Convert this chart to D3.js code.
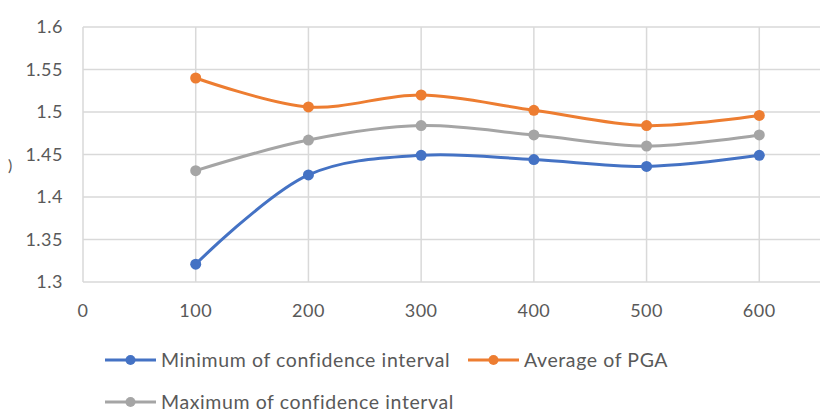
<!DOCTYPE html>
<html><head><meta charset="utf-8">
<script src="https://cdn.jsdelivr.net/npm/d3@7"></script>
<style>html,body{margin:0;padding:0;background:#fff;overflow:hidden}svg{display:block}</style>
</head><body>
<svg id="c" width="820" height="412"></svg>
<script>
const xValues = [100, 200, 300, 400, 500, 600];
const minCI = [1.321, 1.426, 1.449, 1.444, 1.436, 1.449];
const avgPGA = [1.540, 1.506, 1.520, 1.502, 1.484, 1.496];
const maxCI = [1.431, 1.467, 1.484, 1.473, 1.460, 1.473];
const seriesNames = ["Minimum of confidence interval", "Average of PGA", "Maximum of confidence interval"];
const seriesColors = ["#4472C4", "#ED7D31", "#A5A5A5"];
const xTicks = [0, 100, 200, 300, 400, 500, 600];
const yTicks = [1.3, 1.35, 1.4, 1.45, 1.5, 1.55, 1.6];

const svg = d3.select("#c");
const x = d3.scaleLinear().domain([0, 700]).range([83, 872]);
const y = d3.scaleLinear().domain([1.3, 1.6]).range([282, 27]);
const font = "Lato, 'Open Sans', sans-serif";
const textColor = "#595959";

// gridlines
svg.append("g").selectAll("line").data(yTicks).join("line")
  .attr("x1", 83).attr("x2", 820).attr("y1", d => y(d)).attr("y2", d => y(d))
  .attr("stroke", "#d9d9d9").attr("stroke-width", 1.5);
svg.append("g").selectAll("line").data(xTicks).join("line")
  .attr("x1", d => x(d)).attr("x2", d => x(d)).attr("y1", 27).attr("y2", 282)
  .attr("stroke", "#d9d9d9").attr("stroke-width", 1.5);

// y tick labels
svg.append("g").selectAll("text").data(yTicks).join("text")
  .attr("x", 63).attr("y", d => y(d)).attr("dy", "0.35em")
  .attr("text-anchor", "end").attr("font-family", font).attr("font-size", 18)
  .attr("letter-spacing", 0.5)
  .attr("fill", textColor).text(d => String(+d.toFixed(2)));
// x tick labels
svg.append("g").selectAll("text").data(xTicks).join("text")
  .attr("x", d => x(d)).attr("y", 311).attr("dy", "0.35em")
  .attr("text-anchor", "middle").attr("font-family", font).attr("font-size", 18)
  .attr("letter-spacing", 0.5)
  .attr("fill", textColor).text(d => d);

// clipped y-axis title fragment
svg.append("text").attr("x", 8).attr("y", 165).attr("dy", "0.35em")
  .attr("font-family", font).attr("font-size", 16).attr("fill", textColor).text(")");

const data = [minCI, avgPGA, maxCI];
const line = d3.line().x((d, i) => x(xValues[i])).y(d => y(d)).curve(d3.curveCatmullRom.alpha(0.5));
data.forEach((vals, si) => {
  const g = svg.append("g");
  g.append("path").datum(vals).attr("d", line).attr("fill", "none")
    .attr("stroke", seriesColors[si]).attr("stroke-width", 3).attr("stroke-linecap", "round");
  g.selectAll("circle").data(vals).join("circle")
    .attr("cx", (d, i) => x(xValues[i])).attr("cy", d => y(d)).attr("r", 5.5)
    .attr("fill", seriesColors[si]);
});

// legend
const legendPos = [[105, 360], [468, 360], [105, 402]];
seriesNames.forEach((name, i) => {
  const [lx, ly] = legendPos[i];
  const g = svg.append("g");
  g.append("line").attr("x1", lx).attr("x2", lx + 51).attr("y1", ly).attr("y2", ly)
    .attr("stroke", seriesColors[i]).attr("stroke-width", 3);
  g.append("circle").attr("cx", lx + 25.5).attr("cy", ly).attr("r", 5).attr("fill", seriesColors[i]);
  g.append("text").attr("x", lx + 56).attr("y", ly).attr("dy", "0.35em")
    .attr("font-family", font).attr("font-size", 19.5).attr("letter-spacing", 0.6)
    .attr("fill", textColor).text(name);
});
</script>
</body></html>
